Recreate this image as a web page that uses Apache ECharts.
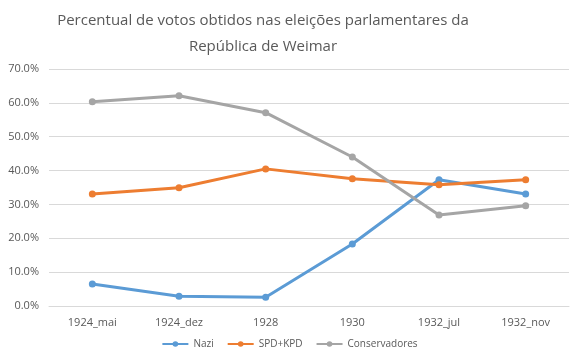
<!DOCTYPE html>
<html><head><meta charset="utf-8">
<script src="https://cdn.jsdelivr.net/npm/echarts@6/dist/echarts.min.js"></script>
<style>html,body{margin:0;padding:0;background:#fff}#c{width:579px;height:360px}</style>
</head><body><div id="c"></div>
<script>
const categories = ['1924_mai','1924_dez','1928','1930','1932_jul','1932_nov'];
const nazi = [6.5, 2.9, 2.6, 18.3, 37.3, 33.1];
const spdKpd = [33.1, 34.9, 40.5, 37.6, 35.8, 37.3];
const conservadores = [60.3, 62.1, 57.1, 44.0, 26.9, 29.6];
const yTicks = [0,10,20,30,40,50,60,70];
const titleLines = ['Percentual de votos obtidos nas eleições parlamentares da', 'República de Weimar'];

const font = 'Open Sans, Calibri, sans-serif';
const chart = echarts.init(document.getElementById('c'));
function mk(name, data, color){
  return {name, type:'line', data, symbol:'circle', symbolSize:7,
    lineStyle:{width:3,color}, itemStyle:{color}, animation:false};
}
chart.setOption({
  animation:false,
  graphic:[{type:'text', x:263, y:8,
    style:{text:titleLines.join('\n'), textAlign:'center', fill:'#595959',
      font:'15px ' + font, lineHeight:26}}],
  grid:{left:49, right:10, top:69, bottom:54},
  xAxis:{type:'category', data:categories, boundaryGap:true,
    axisLine:{lineStyle:{color:'#d9d9d9'}}, axisTick:{show:false},
    axisLabel:{fontFamily:font, fontSize:11, color:'#595959', margin:11}},
  yAxis:{type:'value', min:yTicks[0], max:yTicks[yTicks.length-1], interval:10,
    axisLine:{show:false}, axisTick:{show:false},
    splitLine:{lineStyle:{color:'#d9d9d9'}},
    axisLabel:{fontFamily:font, fontSize:11, color:'#595959', margin:10,
      formatter:v=>v.toFixed(1)+'%'}},
  legend:{bottom:6, left:'center', itemWidth:26, itemHeight:7, itemGap:13,
    textStyle:{fontFamily:font, fontSize:10, color:'#595959'},
    data:['Nazi','SPD+KPD','Conservadores']},
  series:[mk('Nazi',nazi,'#5B9BD5'), mk('SPD+KPD',spdKpd,'#ED7D31'), mk('Conservadores',conservadores,'#A5A5A5')]
});
</script></body></html>
